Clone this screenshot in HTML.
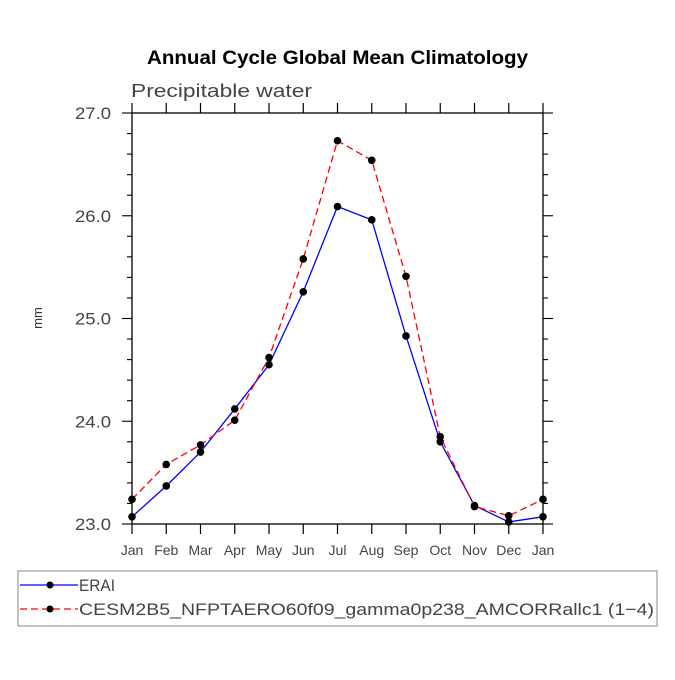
<!DOCTYPE html>
<html><head><meta charset="utf-8"><style>
body{margin:0;background:#fff;}
svg text{font-family:"Liberation Sans","DejaVu Sans",sans-serif;}
</style></head><body>
<svg id="c" width="675" height="675" viewBox="0 0 675 675">
<text x="147" y="64" textLength="381" lengthAdjust="spacingAndGlyphs" font-size="19" font-weight="bold">Annual Cycle Global Mean Climatology</text>
<text x="131" y="97" font-size="18" fill="#444" textLength="181" lengthAdjust="spacingAndGlyphs">Precipitable water</text>
<text transform="translate(42,318) rotate(-90)" text-anchor="middle" font-size="13" fill="#333">mm</text>
<g id="axes"></g><g id="series"></g>
<rect x="18" y="571" width="639" height="55" fill="none" stroke="#888" stroke-width="1"/>
<g>
<line x1="20" y1="585" x2="78" y2="585" stroke="#0000ff" stroke-width="1.3"/>
<circle cx="50" cy="585" r="3.5" fill="#000"/>
<text x="79" y="591" font-size="17" fill="#444" textLength="36" lengthAdjust="spacingAndGlyphs">ERAI</text></g>
<g>
<line x1="20" y1="609" x2="78" y2="609" stroke="#ff0000" stroke-width="1.3" stroke-dasharray="7,4"/>
<circle cx="50" cy="609" r="3.5" fill="#000"/>
<text x="79" y="615" font-size="17" fill="#444" textLength="575" lengthAdjust="spacingAndGlyphs">CESM2B5_NFPTAERO60f09_gamma0p238_AMCORRallc1 (1−4)</text></g>
</svg>
<script>
const months=["Jan","Feb","Mar","Apr","May","Jun","Jul","Aug","Sep","Oct","Nov","Dec","Jan"];
const erai=[23.07,23.37,23.70,24.12,24.55,25.26,26.09,25.96,24.83,23.80,23.18,23.02,23.07];
const cesm=[23.24,23.58,23.77,24.01,24.62,25.58,26.73,26.54,25.41,23.85,23.17,23.08,23.24];
const yTicks=[23,24,25,26,27];
const yLabels=["23.0","24.0","25.0","26.0","27.0"];
const X0=132,X1=543,Y0=524,Y1=113,ymin=23,ymax=27;
const xs=i=>X0+(X1-X0)*i/(months.length-1);
const ys=v=>Y0-(v-ymin)/(ymax-ymin)*(Y0-Y1);
const NS="http://www.w3.org/2000/svg";
function mk(t,a,p){const e=document.createElementNS(NS,t);for(const k in a)e.setAttribute(k,a[k]);p.appendChild(e);return e;}
const ax=document.getElementById('axes');
const fr=mk('rect',{x:X0,y:Y1,width:X1-X0,height:Y0-Y1,fill:'none',stroke:'#000','stroke-width':1.3},ax);


months.forEach((m,i)=>{const x=xs(i);
 mk('line',{x1:x,y1:Y0,x2:x,y2:Y0+10,stroke:'#000','stroke-width':1.2},ax);
 mk('line',{x1:x,y1:Y1,x2:x,y2:Y1-10,stroke:'#000','stroke-width':1.2},ax);
 const t=mk('text',{x:x,y:Y0+31,'text-anchor':'middle','font-size':14,fill:'#444'},ax);t.textContent=m;
 
 
});
for(let v=ymin;v<=ymax+1e-9;v+=0.2){const y=ys(v);const maj=Math.abs(v-Math.round(v))<1e-6;const L=maj?10:5;
 mk('line',{x1:X0-L,y1:y,x2:X0,y2:y,stroke:'#000','stroke-width':1.1},ax);
 mk('line',{x1:X1,y1:y,x2:X1+L,y2:y,stroke:'#000','stroke-width':1.1},ax);}
yTicks.forEach((v,i)=>{const t=mk('text',{x:X0-21,y:ys(v)+6,'text-anchor':'end','font-size':17,fill:'#444',textLength:36,lengthAdjust:'spacingAndGlyphs'},ax);t.textContent=yLabels[i];
 
 });
const sg=document.getElementById('series');
function draw(d,col,dash,name){
 const g=mk('g',{},sg);
 
 
 const a={points:d.map((v,i)=>xs(i)+','+ys(v)).join(' '),fill:'none',stroke:col,'stroke-width':1.3};
 if(dash)a['stroke-dasharray']=dash;
 mk('polyline',a,g);
 d.forEach((v,i)=>{const c=mk('circle',{cx:xs(i),cy:ys(v),r:3.8,fill:'#000'},g);
  
  });
}
draw(erai,'#0000ff',null,'series-erai');
draw(cesm,'#ff0000','7,4','series-cesm');
</script>
</body></html>
